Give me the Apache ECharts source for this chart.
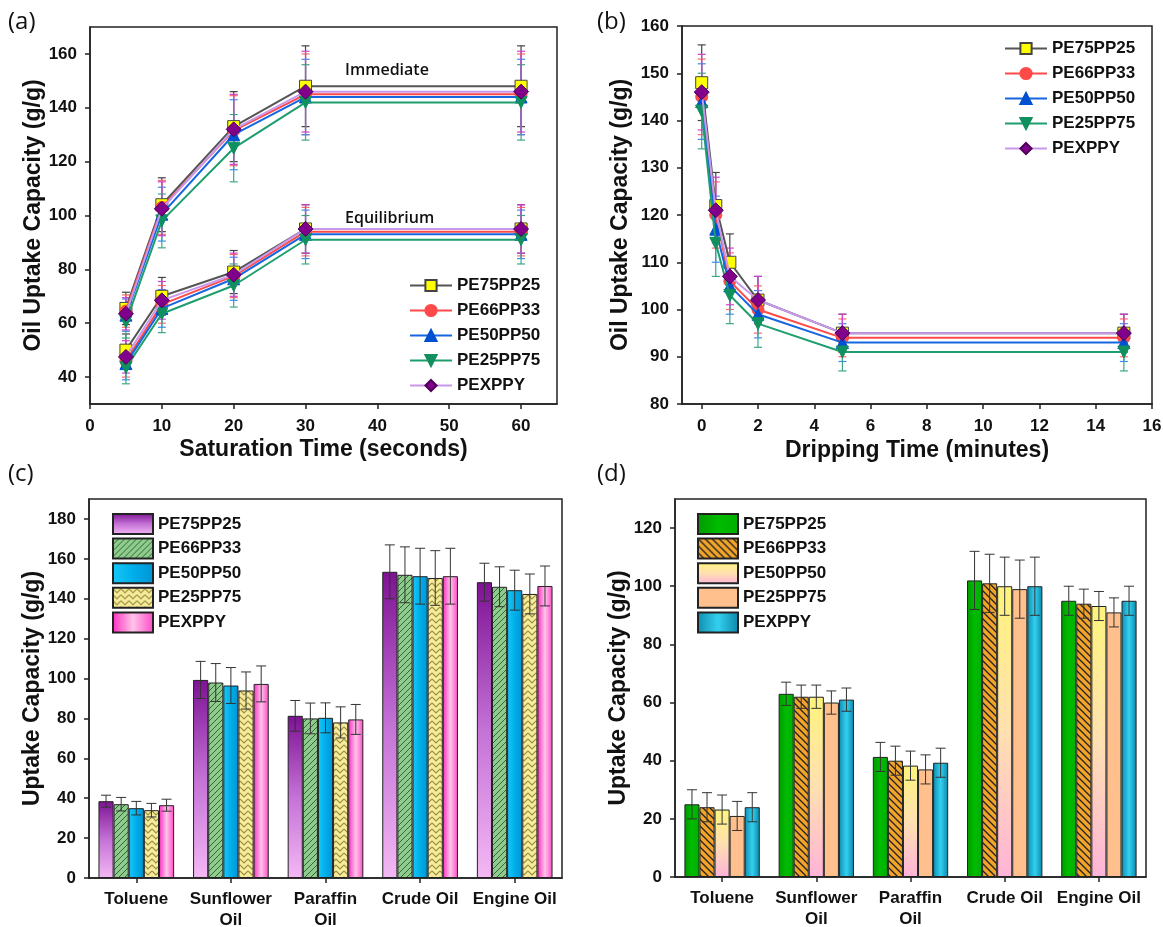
<!DOCTYPE html>
<html>
<head>
<meta charset="utf-8">
<script src="https://cdn.jsdelivr.net/npm/echarts@6/dist/echarts.min.js"></script>
<style>
  html, body { margin: 0; padding: 0; background: #fff; }
  #chart { width: 1163px; height: 927px; }
</style>
</head>
<body>
<div id="chart"></div>
<script>
// ---- data ----
const materials = ['PE75PP25', 'PE66PP33', 'PE50PP50', 'PE25PP75', 'PEXPPY'];

// (a) saturation time
const satTime = [5, 10, 20, 30, 60];
const immValues = [
    [65.5, 104, 133, 148, 148],
    [64.5, 103, 131.5, 145, 145],
    [63, 100.5, 130, 144, 144],
    [60.5, 98, 125, 142, 142],
    [63.5, 102.5, 132, 146, 146]
];
const immErr = [
    [6, 10, 13, 15, 15],
    [6, 10, 13, 15, 15],
    [6, 10, 13, 14, 14],
    [6, 10, 12.5, 14, 14],
    [6, 10, 13, 15, 15]
];
const eqValues = [
    [50, 70, 79, 95, 95],
    [46, 67, 77.5, 94, 94],
    [45, 65.5, 76.5, 93, 93],
    [43.5, 63.5, 74, 91, 91],
    [47.5, 68.5, 78, 95, 95]
];
const eqErr = [
    [6, 7, 8, 9, 9],
    [6, 7, 8, 9, 9],
    [6, 7, 8, 9, 9],
    [6, 7, 8, 9, 9],
    [6, 7, 8, 9, 9]
];

// (b) dripping time
const dripTime = [0, 0.5, 1, 2, 5, 15];
const dripValues = [
    [148, 122, 110, 102, 95, 95],
    [145, 120, 106, 100, 94, 94],
    [144, 117, 105, 99, 93, 93],
    [142, 114, 103, 97, 91, 91],
    [146, 121, 107, 102, 95, 95]
];
const dripErr = [
    [8, 7, 6, 5, 4, 4],
    [8, 7, 6, 5, 4, 4],
    [8, 7, 6, 5, 4, 4],
    [8, 7, 6, 5, 4, 4],
    [8, 7, 6, 5, 4, 4]
];

// (c), (d) oils
const oils = ['Toluene', 'Sunflower\nOil', 'Paraffin\nOil', 'Crude Oil', 'Engine Oil'];
const cValues = [
    [38.5, 99.3, 81.3, 153.5, 148.3],
    [37, 98, 80, 152, 146],
    [35, 96.5, 80.3, 151.3, 144.3],
    [34, 94, 78, 150.4, 142.4],
    [36.5, 97.3, 79.5, 151.3, 146.4]
];
const cErr = [
    [3, 9.3, 7.7, 13.5, 9.5],
    [3.4, 9.5, 7.7, 14, 10],
    [3.4, 9, 7.5, 14, 10],
    [3.4, 9.3, 7.8, 13.7, 10],
    [3, 9, 7.5, 14, 10]
];
const dValues = [
    [25, 63, 41.3, 102, 95],
    [24, 62, 40, 101, 94],
    [23.2, 62, 38.3, 100, 93.2],
    [21, 60, 37, 99, 91],
    [24, 61, 39.3, 100, 95]
];
const dErr = [
    [5, 4, 5, 10, 5],
    [5, 4, 5, 10, 5],
    [5, 4, 5, 10, 5],
    [5, 4, 5, 10, 5],
    [5, 4, 5, 10, 5]
];

const ticksA = [0, 10, 20, 30, 40, 50, 60];
const ticksAY = [40, 60, 80, 100, 120, 140, 160];
const ticksB = [0, 2, 4, 6, 8, 10, 12, 14, 16];
const ticksBY = [80, 90, 100, 110, 120, 130, 140, 150, 160];
const ticksCY = [0, 20, 40, 60, 80, 100, 120, 140, 160, 180];
const ticksDY = [0, 20, 40, 60, 80, 100, 120];

// ---- styles ----
const FONT = "'Liberation Sans', Arial, sans-serif";
const lineColors = ['#555555', '#FF4A4A', '#1566E0', '#1E9E6E', '#C898EC'];
const symbolFill = ['#FFFF00', '#FF4A4A', '#0050D0', '#10905E', '#80008C'];
const symbolBorder = ['#444444', '#FF4A4A', '#0050D0', '#10905E', '#50005A'];
const symbols = ['rect', 'circle', 'triangle', 'triangle', 'diamond'];
const symbolRot = [0, 0, 0, 180, 0];
const errColors = ['#444444', '#FF6A6A', '#3C8CF0', '#3AA884', '#D040D0'];

function hatch(bg, line, size, width, dir) {
    const c = document.createElement('canvas');
    c.width = size; c.height = size;
    const g = c.getContext('2d');
    g.fillStyle = bg; g.fillRect(0, 0, size, size);
    g.strokeStyle = line; g.lineWidth = width;
    g.beginPath();
    if (dir > 0) {
        g.moveTo(0, size); g.lineTo(size, 0);
        g.moveTo(-2, 2); g.lineTo(2, -2);
        g.moveTo(size - 2, size + 2); g.lineTo(size + 2, size - 2);
    } else {
        g.moveTo(0, 0); g.lineTo(size, size);
        g.moveTo(size - 2, -2); g.lineTo(size + 2, 2);
        g.moveTo(-2, size - 2); g.lineTo(2, size + 2);
    }
    g.stroke();
    return { image: c, repeat: 'repeat' };
}

function weave() {
    const c = document.createElement('canvas');
    c.width = 8; c.height = 6;
    const g = c.getContext('2d');
    g.fillStyle = '#F6EC9C'; g.fillRect(0, 0, 8, 6);
    g.strokeStyle = '#9C8E3C'; g.lineWidth = 1.1;
    g.beginPath();
    g.moveTo(0, 1); g.lineTo(4, 5); g.lineTo(8, 1);
    g.stroke();
    return { image: c, repeat: 'repeat' };
}

function lin(x2, y2, stops) {
    return new echarts.graphic.LinearGradient(0, 0, x2, y2,
        stops.map((s, i) => ({ offset: i / (stops.length - 1), color: s })));
}

const cFill = [
    lin(0, 1, ['#7E1294', '#C472D6', '#F4B8F4']),
    hatch('#8FCB8F', '#2E6A2E', 6, 1, 1),
    lin(1, 0, ['#18C8F8', '#00AEEA', '#0094D4']),
    weave(),
    lin(1, 0, ['#FF2CBE', '#FFC4EA', '#FF48C6'])
];
const dFill = [
    lin(1, 0, ['#009A00', '#00BC00', '#00AE00']),
    hatch('#F2A42A', '#222222', 7, 1.3, -1),
    lin(0, 1, ['#FFF47C', '#FFE0B0', '#FFB4D8']),
    '#FFC08E',
    lin(1, 0, ['#0E8CAE', '#34D0F0', '#0A86A8'])
];

// ---- error bar renderers ----
function lineErrItem(color) {
    return function (params, api) {
        const x = api.value(0);
        const lo = api.coord([x, api.value(1)]);
        const hi = api.coord([x, api.value(2)]);
        const cap = 4;
        const style = { stroke: color, lineWidth: 1.2 };
        return {
            type: 'group',
            children: [
                { type: 'line', shape: { x1: lo[0], y1: lo[1], x2: hi[0], y2: hi[1] }, style: style },
                { type: 'line', shape: { x1: lo[0] - cap, y1: lo[1], x2: lo[0] + cap, y2: lo[1] }, style: style },
                { type: 'line', shape: { x1: hi[0] - cap, y1: hi[1], x2: hi[0] + cap, y2: hi[1] }, style: style }
            ]
        };
    };
}

function barErrItem(i) {
    return function (params, api) {
        const cat = api.value(0);
        const band = api.size([1, 0])[0];
        const groupW = band * 0.8;
        const barW = groupW / 5;
        const dx = -groupW / 2 + barW * (i + 0.5);
        const lo = api.coord([cat, api.value(1)]);
        const hi = api.coord([cat, api.value(2)]);
        const x = lo[0] + dx;
        const cap = 5;
        const style = { stroke: '#333', lineWidth: 1 };
        return {
            type: 'group',
            children: [
                { type: 'line', shape: { x1: x, y1: lo[1], x2: x, y2: hi[1] }, style: style },
                { type: 'line', shape: { x1: x - cap, y1: lo[1], x2: x + cap, y2: lo[1] }, style: style },
                { type: 'line', shape: { x1: x - cap, y1: hi[1], x2: x + cap, y2: hi[1] }, style: style }
            ]
        };
    };
}

// ---- option ----
const axisLabelStyle = { fontFamily: FONT, fontWeight: 'bold', fontSize: 17, color: '#111' };
const axisNameStyle = { fontFamily: FONT, fontWeight: 'bold', fontSize: 23, color: '#111' };
const blackLine = { show: true, onZero: false, lineStyle: { color: '#222', width: 1.5 } };

function valueAxis(idx, min, max, ticks, margin, extra) {
    return Object.assign({
        type: 'value', gridIndex: idx, min: min, max: max,
        axisLine: blackLine,
        axisTick: { show: true, length: 5, customValues: ticks, lineStyle: { color: '#222', width: 1.5 } },
        axisLabel: Object.assign({ customValues: ticks, margin: margin }, axisLabelStyle),
        splitLine: { show: false },
        nameTextStyle: axisNameStyle,
        nameLocation: 'middle'
    }, extra || {});
}

function catAxis(idx) {
    return {
        type: 'category', gridIndex: idx, data: oils,
        axisLine: blackLine,
        axisTick: { show: true, alignWithLabel: true, length: 5, lineStyle: { color: '#222', width: 1.5 } },
        axisLabel: Object.assign({ margin: 11, lineHeight: 21, interval: 0 }, axisLabelStyle)
    };
}

const series = [];
materials.forEach(function (m, i) {
    const lineBase = {
        type: 'line',
        symbol: symbols[i],
        symbolSize: symbols[i] === 'diamond' ? 15 : 12,
        symbolRotate: symbolRot[i],
        lineStyle: { color: lineColors[i], width: 2 },
        itemStyle: { color: symbolFill[i], borderColor: symbolBorder[i], borderWidth: 1 },
        z: 3 + i
    };
    series.push(Object.assign({}, lineBase, {
        name: 'a:' + m, xAxisIndex: 0, yAxisIndex: 0,
        data: satTime.map((t, k) => [t, immValues[i][k]])
    }));
    series.push(Object.assign({}, lineBase, {
        name: 'a:' + m, xAxisIndex: 0, yAxisIndex: 0,
        data: satTime.map((t, k) => [t, eqValues[i][k]])
    }));
    series.push({
        type: 'custom', name: 'errA' + i, xAxisIndex: 0, yAxisIndex: 0, z: 2,
        renderItem: lineErrItem(errColors[i]),
        data: satTime.map((t, k) => [t, immValues[i][k] - immErr[i][k], immValues[i][k] + immErr[i][k]])
            .concat(satTime.map((t, k) => [t, eqValues[i][k] - eqErr[i][k], eqValues[i][k] + eqErr[i][k]]))
    });
    series.push(Object.assign({}, lineBase, {
        name: 'b:' + m, xAxisIndex: 1, yAxisIndex: 1,
        data: dripTime.map((t, k) => [t, dripValues[i][k]])
    }));
    series.push({
        type: 'custom', name: 'errB' + i, xAxisIndex: 1, yAxisIndex: 1, z: 2,
        renderItem: lineErrItem(errColors[i]),
        data: dripTime.map((t, k) => [t, dripValues[i][k] - dripErr[i][k], dripValues[i][k] + dripErr[i][k]])
    });
});
materials.forEach(function (m, i) {
    series.push({
        type: 'bar', name: 'c:' + m, xAxisIndex: 2, yAxisIndex: 2,
        barGap: 0, barCategoryGap: '20%',
        itemStyle: { color: cFill[i], borderColor: '#222', borderWidth: 1 },
        data: cValues[i]
    });
    series.push({
        type: 'bar', name: 'd:' + m, xAxisIndex: 3, yAxisIndex: 3,
        barGap: 0, barCategoryGap: '20%',
        itemStyle: { color: dFill[i], borderColor: '#222', borderWidth: 1 },
        data: dValues[i]
    });
});
materials.forEach(function (m, i) {
    series.push({
        type: 'custom', name: 'errC' + i, xAxisIndex: 2, yAxisIndex: 2, z: 5,
        renderItem: barErrItem(i),
        data: oils.map((o, k) => [k, cValues[i][k] - cErr[i][k], cValues[i][k] + cErr[i][k]])
    });
    series.push({
        type: 'custom', name: 'errD' + i, xAxisIndex: 3, yAxisIndex: 3, z: 5,
        renderItem: barErrItem(i),
        data: oils.map((o, k) => [k, dValues[i][k] - dErr[i][k], dValues[i][k] + dErr[i][k]])
    });
});

const legendText = { fontFamily: FONT, fontWeight: 'bold', fontSize: 17, color: '#111' };
function lineLegend(prefix, left, top) {
    return {
        orient: 'vertical', left: left, top: top,
        data: materials.map(m => prefix + m),
        formatter: n => n.split(':')[1],
        itemWidth: 42, itemHeight: 14, itemGap: 8, padding: 0,
        selectedMode: false, textStyle: legendText
    };
}
function barLegend(prefix, left, top) {
    return {
        orient: 'vertical', left: left, top: top, icon: 'rect',
        data: materials.map(m => prefix + m),
        formatter: n => n.split(':')[1],
        itemWidth: 40, itemHeight: 20, itemGap: 2.6, padding: 0,
        selectedMode: false, textStyle: legendText
    };
}

const gridBox = { show: true, borderColor: '#222', borderWidth: 1.5, backgroundColor: '#fff', outerBoundsMode: 'none', containLabel: false };

const option = {
    animation: false,
    backgroundColor: '#fff',
    grid: [
        Object.assign({ left: 90, top: 27, width: 467, height: 377 }, gridBox),
        Object.assign({ left: 682, top: 26, width: 470, height: 378 }, gridBox),
        Object.assign({ left: 89, top: 499, width: 473, height: 379 }, gridBox),
        Object.assign({ left: 675, top: 499, width: 471, height: 378 }, gridBox)
    ],
    legend: [
        lineLegend('a:', 409, 277),
        lineLegend('b:', 1004, 40),
        barLegend('c:', 112, 513),
        barLegend('d:', 697, 513)
    ],
    xAxis: [
        valueAxis(0, 0, 65, ticksA, 14, { name: 'Saturation Time (seconds)', nameGap: 34 }),
        valueAxis(1, -0.7, 16, ticksB, 14, { name: 'Dripping Time (minutes)', nameGap: 35 }),
        catAxis(2),
        catAxis(3)
    ],
    yAxis: [
        valueAxis(0, 30, 170, ticksAY, 13, { name: 'Oil Uptake Capacity (g/g)', nameGap: 45 }),
        valueAxis(1, 80, 160, ticksBY, 13, { name: 'Oil Uptake Capacity (g/g)', nameGap: 50 }),
        valueAxis(2, 0, 190, ticksCY, 13, { name: 'Uptake Capacity (g/g)', nameGap: 45 }),
        valueAxis(3, 0, 130, ticksDY, 13, { name: 'Uptake Capacity (g/g)', nameGap: 45 })
    ],
    graphic: [
        { type: 'text', left: 8, top: 10, style: { text: '(a)', font: "24px 'Open Sans'", fill: '#111' } },
        { type: 'text', left: 597, top: 10, style: { text: '(b)', font: "24px 'Open Sans'", fill: '#111' } },
        { type: 'text', left: 8, top: 462, style: { text: '(c)', font: "24px 'Open Sans'", fill: '#111' } },
        { type: 'text', left: 597, top: 462, style: { text: '(d)', font: "24px 'Open Sans'", fill: '#111' } },
        { type: 'text', left: 345, top: 62, style: { text: 'Immediate', font: "600 16px 'Open Sans'", fill: '#111' } },
        { type: 'text', left: 345, top: 210, style: { text: 'Equilibrium', font: "600 16px 'Open Sans'", fill: '#111' } }
    ],
    series: series
};

const myChart = echarts.init(document.getElementById('chart'));
myChart.setOption(option);
</script>
</body>
</html>
